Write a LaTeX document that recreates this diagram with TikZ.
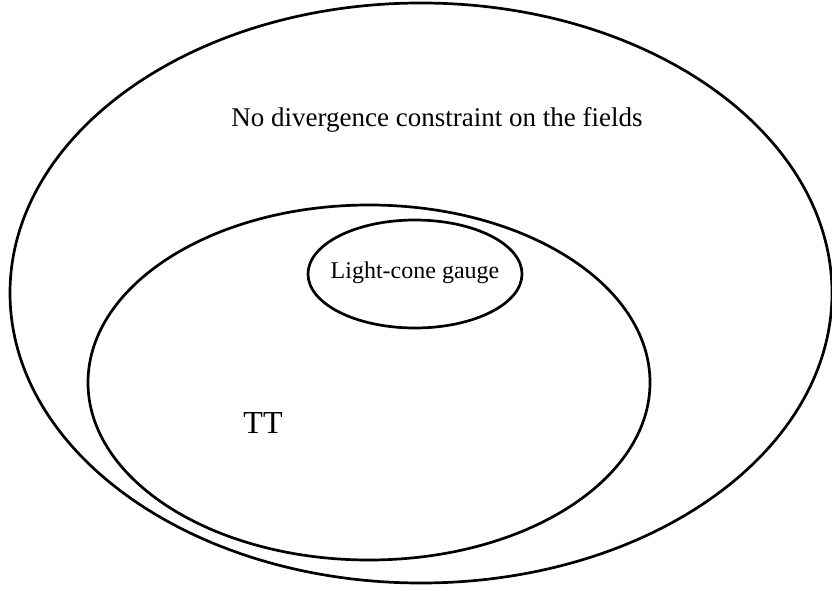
\documentclass[tikz,border=0pt]{standalone}
\usepackage{fontspec}
\setmainfont{Liberation Serif}
\begin{document}
\begin{tikzpicture}[x=1pt,y=1pt,
  ring/.style={line width=2.7pt,draw=black},
  lbl/.style={anchor=base,inner sep=0pt}]
\useasboundingbox (0,0) rectangle (832,590);
\draw[ring] (421,297) ellipse [x radius=411,y radius=290];
\draw[ring] (369,207.5) ellipse [x radius=281,y radius=177.5];
\draw[ring] (415,316) ellipse [x radius=107,y radius=54];
\node[lbl,font=\fontsize{27}{27}\selectfont] (outer) at (437,463) {No divergence constraint on the fields};
\node[lbl,font=\fontsize{24}{24}\selectfont] (lc) at (415,312) {Light-cone gauge};
\node[lbl,font=\fontsize{32}{32}\selectfont] (tt) at (263,157) {TT};
\end{tikzpicture}
\end{document}
